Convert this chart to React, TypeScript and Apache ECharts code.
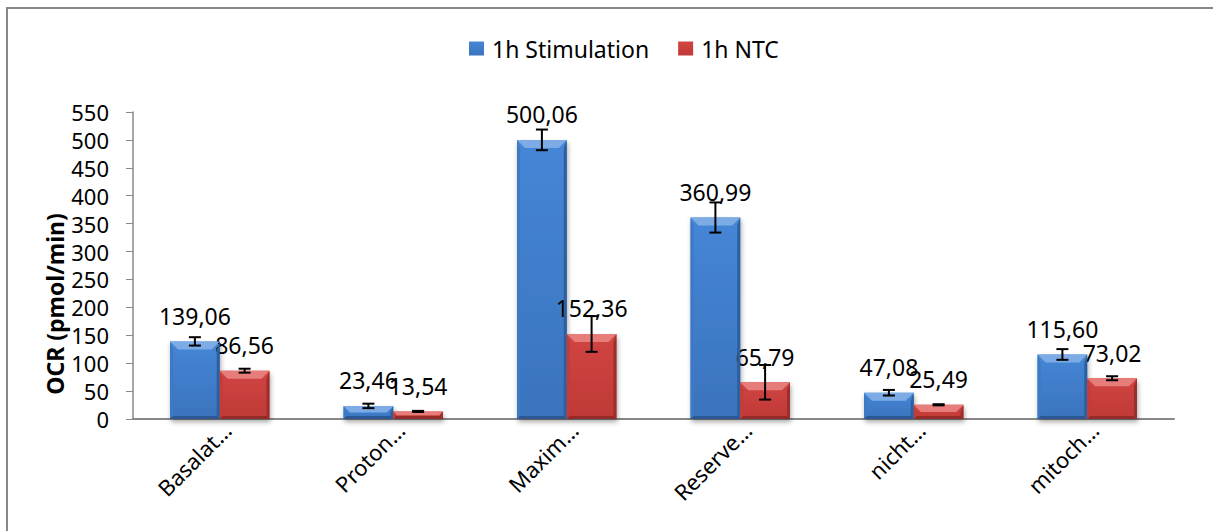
import React, { useEffect, useRef } from "react";
import * as echarts from "echarts";

const categories = ["Basalat…", "Proton…", "Maxim…", "Reserve…", "nicht…", "mitoch…"];
const seriesNames = ["1h Stimulation", "1h NTC"];
const stimValues = [139.06, 23.46, 500.06, 360.99, 47.08, 115.6];
const ntcValues = [86.56, 13.54, 152.36, 65.79, 25.49, 73.02];
const stimErrors = [7.5, 4, 18.5, 27, 5, 9.6];
const ntcErrors = [3.5, 1, 32, 31, 1, 3.6];
const yTicks = { min: 0, max: 550, interval: 50 };
const yName = "OCR (pmol/min)";

const GAP = 0.427;
const FONT = "'Noto Sans', 'Open Sans', sans-serif";

const palettes = [
  { face: ["#4586d6", "#3a73bd"], top: "#7cabe6", left: "#3d79c4", right: "#2d5f9f", bottom: "#2b5894" },
  { face: ["#d04542", "#bf3936"], top: "#e67d7a", left: "#c23c3a", right: "#9b2f2d", bottom: "#932b29" },
];

function fmt(v: number) {
  return v.toFixed(2).replace(".", ",");
}

export default function App() {
  const ref = useRef<HTMLDivElement>(null);
  useEffect(() => {
    if (!ref.current) return;
    const chart = echarts.init(ref.current, null, { renderer: "svg" });
    const valuesList = [stimValues, ntcValues];
    const errList = [stimErrors, ntcErrors];

    const barSeries = valuesList.map((vals, s) => ({
      type: "bar",
      name: seriesNames[s],
      data: vals,
      barGap: "0%",
      barCategoryGap: GAP * 100 + "%",
      z: 2,
      itemStyle: {
        color: new echarts.graphic.LinearGradient(0, 0, 0, 1, [
          { offset: 0, color: palettes[s].face[0] },
          { offset: 1, color: palettes[s].face[1] },
        ]),
        shadowColor: "rgba(0,0,0,0.35)",
        shadowBlur: 5,
        shadowOffsetX: 1,
        shadowOffsetY: 3,
      },
      label: {
        show: true,
        position: "top",
        distance: 14,
        color: "#000",
        fontFamily: FONT,
        fontSize: 23,
        formatter: (p: any) => fmt(p.value),
      },
    }));

    const bevelSeries = valuesList.map((vals, s) => ({
      type: "custom",
      name: seriesNames[s] + " bevel",
      z: 3,
      silent: true,
      data: vals.map((v, i) => [i, v]),
      encode: { x: 0, y: 1 },
      renderItem: (params: any, api: any) => {
        const cat = api.value(0);
        const v = api.value(1);
        const band = api.size([1, 0])[0];
        const bw = (band * (1 - GAP)) / 2;
        const sign = s === 0 ? -1 : 1;
        const cx = api.coord([cat, v])[0] + (sign * bw) / 2;
        const yv = api.coord([cat, v])[1];
        const y0 = api.coord([cat, 0])[1];
        const x0 = cx - bw / 2;
        const x1 = cx + bw / 2;
        const b = Math.min(8, (y0 - yv) / 2);
        const sb = Math.min(3, b);
        const p = palettes[s];
        return {
          type: "group",
          children: [
            {
              type: "polygon",
              shape: { points: [[x0, yv], [x1, yv], [x1 - b, yv + b], [x0 + b, yv + b]] },
              style: { fill: p.top },
            },
            {
              type: "polygon",
              shape: { points: [[x1, yv], [x1, y0], [x1 - sb, y0 - sb], [x1 - sb, yv + b]] },
              style: { fill: p.right },
            },
            {
              type: "polygon",
              shape: { points: [[x0, yv], [x0 + sb, yv + b], [x0 + sb, y0 - sb], [x0, y0]] },
              style: { fill: p.left },
            },
            {
              type: "polygon",
              shape: { points: [[x0, y0], [x0 + sb, y0 - sb], [x1 - sb, y0 - sb], [x1, y0]] },
              style: { fill: p.bottom },
            },
          ],
        };
      },
    }));

    const errSeries = valuesList.map((vals, s) => ({
      type: "custom",
      name: seriesNames[s] + " error",
      z: 4,
      silent: true,
      data: vals.map((v, i) => [i, v, errList[s][i]]),
      encode: { x: 0, y: 1 },
      renderItem: (params: any, api: any) => {
        const cat = api.value(0);
        const v = api.value(1);
        const e = api.value(2);
        const band = api.size([1, 0])[0];
        const bw = (band * (1 - GAP)) / 2;
        const sign = s === 0 ? -1 : 1;
        const cx = api.coord([cat, v])[0] + (sign * bw) / 2;
        const yt = api.coord([cat, v + e])[1];
        const yb = api.coord([cat, v - e])[1];
        const cw = 6;
        const st = { stroke: "#000", lineWidth: 2 };
        return {
          type: "group",
          children: [
            { type: "line", shape: { x1: cx, y1: yt, x2: cx, y2: yb }, style: st },
            { type: "line", shape: { x1: cx - cw, y1: yt, x2: cx + cw, y2: yt }, style: st },
            { type: "line", shape: { x1: cx - cw, y1: yb, x2: cx + cw, y2: yb }, style: st },
          ],
        };
      },
    }));

    chart.setOption({
      animation: false,
      backgroundColor: "#fff",
      textStyle: { fontFamily: FONT },
      legend: {
        data: seriesNames,
        left: 464,
        top: 32,
        icon: "rect",
        itemWidth: 15,
        itemHeight: 14,
        itemGap: 29,
        textStyle: { fontFamily: FONT, fontSize: 23, color: "#000", padding: [0, 0, 0, 3] },
      },
      grid: { left: 133, right: 39, top: 112, bottom: 112, containLabel: false },
      xAxis: {
        type: "category",
        data: categories,
        axisLine: { show: true, lineStyle: { color: "#888", width: 2 } },
        axisTick: { show: false },
        axisLabel: {
          interval: 0,
          rotate: 45,
          margin: 14,
          color: "#000",
          fontFamily: FONT,
          fontSize: 22,
          padding: [20, -10, 0, 0],
        },
      },
      yAxis: {
        type: "value",
        min: yTicks.min,
        max: yTicks.max,
        interval: yTicks.interval,
        splitLine: { show: false },
        axisLine: { show: true, lineStyle: { color: "#888", width: 1.5 } },
        axisTick: { show: true, inside: false, length: 7, lineStyle: { color: "#888" } },
        axisLabel: { color: "#000", fontFamily: FONT, fontSize: 22, margin: 24 },
      },
      graphic: [
        {
          type: "rect",
          shape: { x: 7, y: 8, width: 1220, height: 540 },
          style: { fill: "none", stroke: "#888", lineWidth: 2 },
          silent: true,
        },
        {
          type: "text",
          x: 55,
          y: 304,
          rotation: Math.PI / 2,
          style: {
            text: yName,
            fill: "#000",
            font: "bold 23px " + FONT,
            align: "center",
            verticalAlign: "middle",
          },
        },
      ],
      series: [...barSeries, ...bevelSeries, ...errSeries],
    });
    return () => chart.dispose();
  }, []);
  return (
    <div
      ref={ref}
      style={{ position: "absolute", left: 0, top: 0, width: 1213, height: 531 }}
    />
  );
}
